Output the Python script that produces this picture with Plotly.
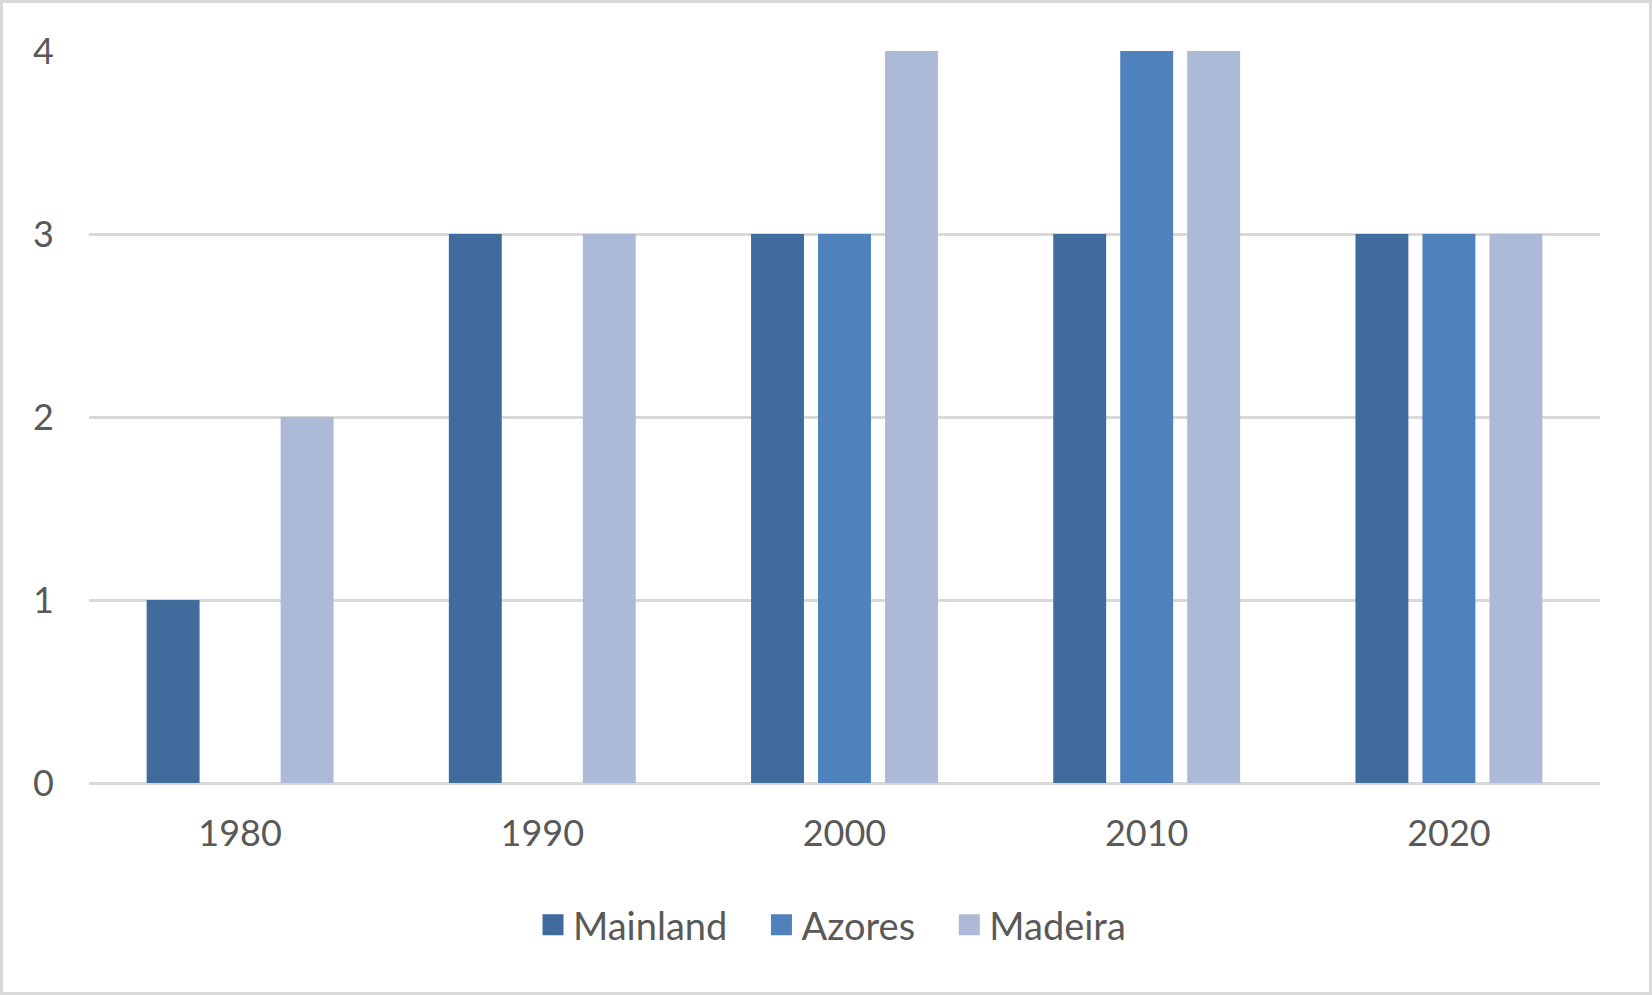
import plotly.graph_objects as go

# values
years = ["1980", "1990", "2000", "2010", "2020"]
mainland = [1, 3, 3, 3, 3]
azores = [0, 0, 3, 4, 3]
madeira = [2, 3, 4, 4, 3]

series_names = ["Mainland", "Azores", "Madeira"]
series_colors = ["#416A9D", "#4F81BD", "#ACBAD8"]
y_ticks = [0, 1, 2, 3, 4]

W, H = 1652, 995
ML, MR, MT, MB = 89, 52, 51, 212
font_name = "Lato"
text_color = "#595959"
grid_color = "#D9D9D9"
pad = "\u00a0" * 3  # extra room between legend entries

fig = go.Figure()
for i, (name, vals, col) in enumerate(zip(series_names, [mainland, azores, madeira], series_colors)):
    fig.add_trace(go.Bar(x=years, y=vals, name=name, marker_color=col,
                         marker_line_width=0, showlegend=False))
    # legend proxy so the legend square is bigger than the default bar icon
    label = name + (pad if i < len(series_names) - 1 else "")
    fig.add_trace(go.Scatter(x=[None], y=[None], mode="markers", name=label,
                             marker=dict(symbol="square", size=16, color=col,
                                         line=dict(color=col, width=5))))

# outer border of the chart area, in paper coords
pw = W - ML - MR
ph = H - MT - MB
fig.add_shape(type="rect", xref="paper", yref="paper",
              x0=(1.5 - ML) / pw, x1=(W - 1.5 - ML) / pw,
              y0=-(MB - 1.5) / ph, y1=(H - MB - 1.5) / ph,
              line=dict(color=grid_color, width=3), fillcolor="rgba(0,0,0,0)",
              layer="below")

fig.update_layout(
    width=W, height=H,
    margin=dict(l=ML, r=MR, t=MT, b=MB, pad=0),
    paper_bgcolor="white", plot_bgcolor="white",
    barmode="group", bargap=0.335, bargroupgap=0.21,
    font=dict(family=font_name, size=36, color=text_color),
    legend=dict(orientation="h", xanchor="center", yanchor="middle",
                x=(832 - ML) / pw, y=-(925 - (H - MB)) / ph,
                font=dict(size=38, color=text_color), itemclick=False),
    xaxis=dict(showgrid=False, showline=False, zeroline=False,
               ticks="", ticklabelstandoff=26,
               tickfont=dict(size=36, color=text_color)),
    yaxis=dict(range=[0, 4], tickvals=y_ticks, showgrid=True,
               gridcolor=grid_color, gridwidth=3, zeroline=True,
               zerolinecolor=grid_color, zerolinewidth=3, showline=False,
               ticks="", ticklabelstandoff=34,
               tickfont=dict(size=36, color=text_color)),
)

# drop the default 8px page margin so the figure sits at the window corner
fig.write_html("out.html", config={"displayModeBar": False},
               post_script="document.body.style.margin='0';")
